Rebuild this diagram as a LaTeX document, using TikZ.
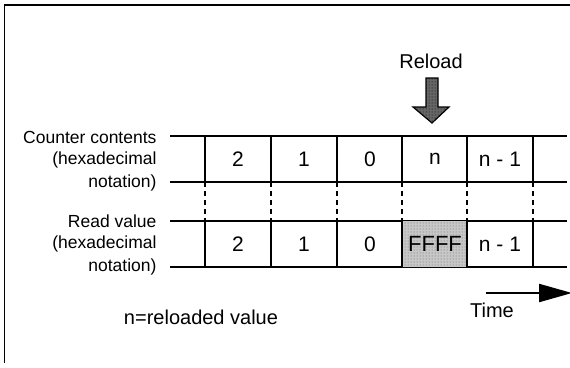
\documentclass[tikz,border=0pt]{standalone}
\usepackage{fontspec}
\setmainfont{Liberation Sans}
\usetikzlibrary{arrows.meta,patterns}
\newcommand\lblfont{\fontsize{17.5pt}{23pt}\selectfont}
\newcommand\valfont{\fontsize{21pt}{24pt}\selectfont}
\newcommand\bigfont{\fontsize{20pt}{24pt}\selectfont}
\begin{document}
\begin{tikzpicture}[x=1pt,y=-1pt,line cap=butt,line join=miter,>=latex,
    rowline/.style={line width=2.6pt},
    divline/.style={line width=2.4pt},
    gapline/.style={line width=1.6pt,dash pattern=on 5pt off 4pt},
    rowlabel/.style={anchor=east,font=\lblfont},
    cellval/.style={font=\valfont},
    bigtext/.style={font=\bigfont}]
  \useasboundingbox (0,0) rectangle (570,367);
  % frame
  \draw[line width=1.6pt] (4.5,363) -- (4.5,5) -- (570,5);
  % row lines
  \foreach \y in {136,182,221,267}
    \draw[rowline] (170,\y) -- (567,\y);
  % shaded read cell
  \fill[black!22] (402,221) rectangle (467,267);
  \fill[pattern=dots,pattern color=black!60] (402,221) rectangle (467,267);
  % dividers
  \foreach \x [count=\k] in {205,271,337,402,467,533} {
    \coordinate (t\k) at (\x,182);
    \coordinate (b\k) at (\x,221);
    \draw[divline] (\x,136) -- (t\k);
    \draw[divline] (b\k) -- (\x,267);
    \draw[gapline] (t\k) -- (b\k);
  }
  % labels, one line each
  \node[rowlabel] (cnt1) at (160,137) {Counter contents};
  \node[rowlabel] (cnt2) at (160,160) {(hexadecimal};
  \node[rowlabel] (cnt3) at (160,183) {notation)};
  \node[rowlabel] (rd1) at (160,221) {Read value};
  \node[rowlabel] (rd2) at (160,244) {(hexadecimal};
  \node[rowlabel] (rd3) at (160,267) {notation)};
  % values
  \node[cellval] (c2) at (238,159) {2};
  \node[cellval] (c1) at (304,159) {1};
  \node[cellval] (c0) at (370,159) {0};
  \node[cellval] (cn) at (435,159) {n};
  \node[cellval] (cm) at (500,159) {n - 1};
  \node[cellval] (r2) at (238,244) {2};
  \node[cellval] (r1) at (304,244) {1};
  \node[cellval] (r0) at (370,244) {0};
  \node[cellval,font=\fontsize{22pt}{24pt}\selectfont] (rf) at (435,244) {FFFF};
  \node[cellval] (rm) at (500,244) {n - 1};
  % reload arrow
  \node[bigtext] (reload) at (431,61) {Reload};
  \fill[black!60] (426,78) -- (438,78) -- (438,107) -- (449,107) -- (432,123)
    -- (413,107) -- (426,107) -- cycle;
  \fill[pattern=dots,pattern color=black] (426,78) -- (438,78) -- (438,107)
    -- (449,107) -- (432,123) -- (413,107) -- (426,107) -- cycle;
  \draw[line width=1.2pt] (426,78) -- (438,78) -- (438,107) -- (449,107)
    -- (432,123) -- (413,107) -- (426,107) -- cycle;
  % time axis
  \coordinate (t0) at (486,293);
  \coordinate (tend) at (572,293);
  \draw[line width=2.2pt,-{Triangle[length=33pt,width=18pt]}] (t0) -- (tend);
  \node[bigtext] (time) at (492,310) {Time};
  \node[bigtext] (note) at (201,317) {n=reloaded value};
\end{tikzpicture}
\end{document}
